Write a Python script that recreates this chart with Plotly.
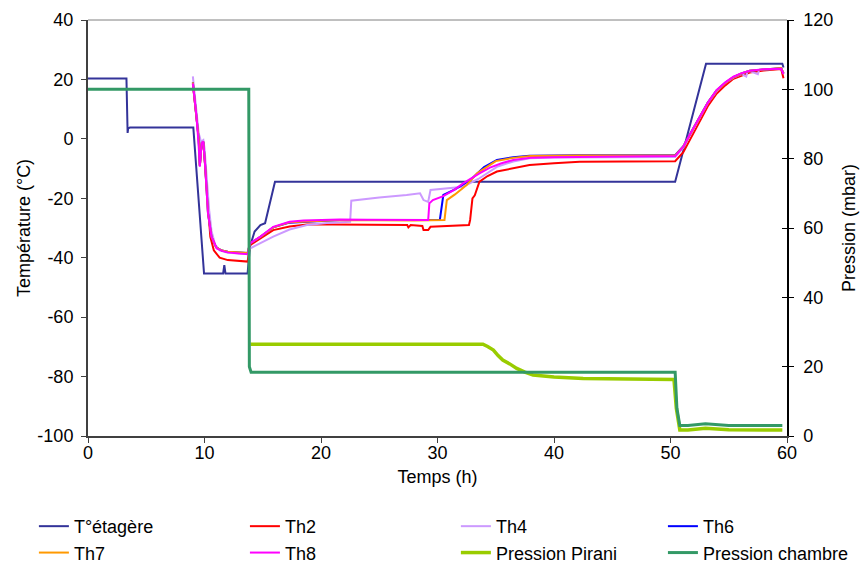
import plotly.graph_objects as go

# ---------------- data ----------------
t_shelf = [0, 3.3, 3.4, 3.45, 3.6, 9.04, 9.96, 11.6, 11.7, 11.8, 13.7, 13.9, 14.3, 14.8, 15.2, 16.05,
           50.4, 53.05, 59.6, 59.7]
shelf = [20.3, 20.3, 2.0, 3.5, 3.8, 3.8, -45.3, -45.3, -42.5, -45.3, -45.3, -36.3, -31.2, -29.0, -28.4, -14.4,
         -14.4, 25.3, 25.3, 24.0]

t_th2 = [9.0, 9.3, 9.5, 9.6, 9.75, 9.9, 10.05, 10.3, 10.5, 10.8, 11.3, 12.0, 13.0, 13.7, 13.9, 14.8, 15.9,
         17.3, 18.8, 21.0, 24.5, 27.4, 27.5, 27.7, 28.7, 28.8, 29.2, 29.4, 32.7, 32.8, 33.0, 33.2, 33.6, 34.3,
         35.1, 36.5, 37.9, 40.0, 42.2, 46.0, 50.4, 51.1, 51.8, 52.5, 53.2, 53.95, 54.7, 55.4, 56.8, 58.0, 59.5, 59.7]
th2 = [18.5, 8.0, 0.5, -9.0, -2.0, -1.0, -9.0, -25.0, -33.0, -37.5, -40.0, -40.8, -41.2, -41.3, -35.8, -33.5, -30.7,
       -29.5, -28.8, -28.8, -29.0, -29.0, -29.8, -29.0, -29.3, -30.7, -30.7, -29.6, -29.0, -27.3, -20.0, -19.0, -14.4, -12.5,
       -11.0, -9.8, -8.8, -8.2, -7.7, -7.6, -7.5, -4.5, 0.5, 6.0, 11.0, 15.2, 18.0, 20.2, 22.3, 23.0, 23.5, 20.4]

t_th4 = [9.0, 9.3, 9.5, 9.7, 9.9, 10.0, 10.2, 10.4, 10.6, 10.9, 11.3, 12.0, 13.0, 13.7, 13.9, 14.8, 15.9, 17.3,
         18.8, 20.5, 22.5, 22.6, 25.0, 27.35, 28.5, 28.8, 29.2, 29.4, 32.2, 33.5, 35.1, 36.5, 37.9, 40.0, 45.0,
         50.4, 51.1, 51.8, 52.5, 53.2, 53.95, 54.7, 55.4, 56.1, 56.5, 56.6, 56.8, 57.5, 57.6, 58.0, 59.5, 59.7]
th4 = [21.0, 10.0, 2.0, -1.0, -0.4, -3.0, -13.9, -24.0, -31.0, -35.5, -37.5, -38.3, -38.6, -38.7, -36.9, -35.0, -32.9, -30.5,
       -29.0, -28.3, -27.9, -20.8, -19.7, -18.9, -18.3, -20.6, -21.2, -17.2, -16.1, -13.5, -9.4, -7.6, -6.5, -6.3, -6.2,
       -6.1, -3.0, 2.0, 7.0, 12.0, 16.0, 18.8, 20.6, 21.8, 21.0, 22.6, 22.8, 21.8, 23.2, 23.3, 23.7, 22.0]

t_th6 = [9.0, 9.3, 9.5, 9.6, 9.75, 9.9, 10.05, 10.3, 10.6, 11.0, 11.5, 12.0, 13.0, 13.7, 13.9, 14.8, 15.9, 17.3,
         21.6, 24.0, 28.0, 30.2, 30.5, 31.5, 32.8, 34.0, 35.1, 36.5, 37.9, 42.0, 50.4, 51.1, 51.8, 52.5, 53.2,
         53.95, 54.7, 55.4, 56.1, 56.8, 58.0, 59.5, 59.7]
th6 = [19.0, 8.0, 0.0, -9.0, -1.5, -1.0, -8.5, -25.0, -33.0, -36.5, -37.6, -38.0, -38.3, -38.4, -35.2, -33.0, -29.8, -28.2,
       -27.3, -27.3, -27.4, -27.3, -18.9, -17.0, -13.9, -9.5, -7.1, -6.2, -5.7, -5.5, -5.5, -2.5, 2.5, 7.6, 12.2,
       16.3, 18.9, 20.8, 22.0, 22.9, 23.4, 23.8, 22.0]

t_th7 = [9.0, 9.3, 9.5, 9.6, 9.75, 9.9, 10.05, 10.3, 10.6, 11.0, 11.5, 12.0, 13.0, 13.7, 13.9, 14.8, 15.9, 17.3,
         21.6, 24.0, 28.0, 30.6, 30.8, 31.5, 32.5, 33.4, 35.0, 36.5, 38.0, 42.0, 50.4, 51.1, 51.8, 52.5, 53.2,
         53.95, 54.7, 55.4, 56.1, 56.8, 58.0, 59.5, 59.7]
th7 = [19.0, 8.0, 0.0, -9.0, -1.5, -1.0, -8.5, -25.0, -33.0, -36.5, -37.6, -38.0, -38.3, -38.4, -35.2, -33.0, -29.8, -28.1,
       -27.3, -27.4, -27.5, -27.3, -20.6, -18.7, -15.5, -11.6, -7.5, -6.4, -5.8, -5.6, -5.6, -2.6, 2.4, 7.5, 12.1,
       16.2, 18.8, 20.8, 22.0, 22.9, 23.4, 23.8, 22.0]

t_th8 = [9.0, 9.3, 9.47, 9.6, 9.75, 9.9, 10.04, 10.3, 10.6, 11.05, 11.5, 12.0, 13.0, 13.7, 13.9, 14.8, 15.9, 17.3,
         18.5, 21.6, 24.0, 26.0, 28.8, 29.2, 29.3, 29.6, 30.5, 31.5, 32.2, 33.0, 33.6, 34.5, 35.5, 36.5, 38.0,
         40.0, 42.2, 46.0, 50.4, 51.1, 51.8, 52.5, 53.2, 53.95, 54.7, 55.4, 56.1, 56.8, 58.0, 59.5, 59.7]
th8 = [18.7, 8.0, -0.4, -9.4, -1.5, -0.9, -8.2, -25.0, -32.9, -36.9, -37.7, -38.2, -38.6, -38.8, -35.2, -32.9, -29.6, -27.9,
       -27.5, -27.1, -27.2, -27.3, -27.3, -27.3, -21.7, -20.6, -19.3, -17.0, -15.0, -13.0, -11.6, -9.7, -8.2, -7.1, -6.4,
       -6.2, -6.0, -5.9, -5.8, -2.6, 2.4, 7.5, 12.1, 16.4, 19.0, 20.9, 22.1, 22.9, 23.4, 23.6, 21.8]

t_pirani = [13.95, 14.05, 33.9, 34.3, 34.8, 35.2, 35.6, 36.2, 36.8, 37.5, 38.2, 40.0, 42.5, 50.3, 50.5, 50.8,
            51.5, 53.0, 55.0, 59.6]
pirani = [26.5, 26.5, 26.5, 25.8, 24.8, 23.2, 21.9, 20.8, 19.5, 18.4, 17.6, 17.0, 16.6, 16.3, 8.0, 1.7,
          1.7, 2.2, 1.8, 1.7]

t_chamber = [0, 13.8, 13.85, 14.0, 50.4, 50.55, 50.8, 51.5, 53.0, 55.0, 59.6]
chamber = [100, 100, 20, 18.4, 18.4, 8.0, 3.0, 3.0, 3.5, 3.0, 3.0]

# tick labels (plain hyphen minus, as in the original)
temp_ticks = [-100, -80, -60, -40, -20, 0, 20, 40]
temp_ticktext = ["-100", "-80", "-60", "-40", "-20", "0", "20", "40"]

# ---------------- figure ----------------
FONT = "Liberation Sans, Arial, sans-serif"
fig = go.Figure()

# (name, x, y, colour, axis, legend column)
series = [
    ("T°étagère", t_shelf, shelf, "#333399", "y", "legend"),
    ("Th2", t_th2, th2, "#FF0000", "y", "legend2"),
    ("Th4", t_th4, th4, "#CC99FF", "y", "legend3"),
    ("Th6", t_th6, th6, "#0000FF", "y", "legend4"),
    ("Th7", t_th7, th7, "#FF9900", "y", "legend"),
    ("Th8", t_th8, th8, "#FF00FF", "y", "legend2"),
    ("Pression Pirani", t_pirani, pirani, "#99CC00", "y2", "legend3"),
    ("Pression chambre", t_chamber, chamber, "#339966", "y2", "legend4"),
]
for name, tx, vy, col, ax, leg in series:
    w = 2
    if name == "Pression Pirani":
        w = 3.5
    elif name == "Pression chambre":
        w = 3
    fig.add_trace(go.Scatter(x=tx, y=vy, name=name, mode="lines", yaxis=ax, legend=leg,
                             line=dict(color=col, width=w)))

tickfont = dict(family=FONT, size=18, color="black")
legfont = dict(family=FONT, size=18, color="black")


def legend_col(xpos):
    return dict(orientation="v", x=xpos, xanchor="left", y=-0.173, yanchor="top",
                traceorder="normal", font=legfont, bgcolor="rgba(0,0,0,0)", tracegroupgap=0)


fig.update_layout(
    width=860, height=564,
    margin=dict(l=88, r=73, t=20, b=128, autoexpand=False),
    paper_bgcolor="white", plot_bgcolor="white",
    font=dict(family=FONT, size=18, color="black"),
    xaxis=dict(range=[0, 60], dtick=10, showgrid=False, zeroline=False,
               showline=True, linecolor="#404040", linewidth=2,
               ticks="outside", ticklen=5, tickcolor="#404040", tickfont=tickfont,
               ticklabelstandoff=-6,
               title=dict(text="Temps (h)", font=tickfont, standoff=9), automargin=False),
    yaxis=dict(range=[-100, 40], tickmode="array", tickvals=temp_ticks, ticktext=temp_ticktext,
               showgrid=False, zeroline=False,
               showline=True, linecolor="#404040", linewidth=2,
               ticks="outside", ticklen=5, tickcolor="#404040", tickfont=tickfont,
               ticklabelstandoff=4,
               title=dict(text="Température (°C)", font=tickfont, standoff=2), automargin=False),
    yaxis2=dict(range=[0, 120], dtick=20, overlaying="y", side="right", showgrid=False, zeroline=False,
                showline=True, linecolor="black", linewidth=1.5,
                ticks="outside", ticklen=5, tickcolor="black", tickfont=tickfont,
                ticklabelstandoff=6,
                title=dict(text="Pression (mbar)", font=tickfont, standoff=10), automargin=False),
    yaxis3=dict(range=[0, 120], dtick=20, overlaying="y", side="right", showgrid=False, zeroline=False,
                showline=False, ticks="inside", ticklen=5, tickcolor="black", showticklabels=False,
                automargin=False),
    legend=legend_col(-0.0774),
    legend2=legend_col(0.2245),
    legend3=legend_col(0.5263),
    legend4=legend_col(0.8225),
    showlegend=True,
)
# empty trace to activate yaxis3 (inner half of the crossing ticks)
fig.add_trace(go.Scatter(x=[None], y=[None], yaxis="y3", showlegend=False, hoverinfo="skip"))
fig.add_shape(type="line", xref="paper", yref="paper", x0=0, x1=1, y0=1, y1=1,
              line=dict(color="#808080", width=1))

fig.write_html("out.html", config={"displayModeBar": False},
               post_script="document.body.style.margin='0px';")
